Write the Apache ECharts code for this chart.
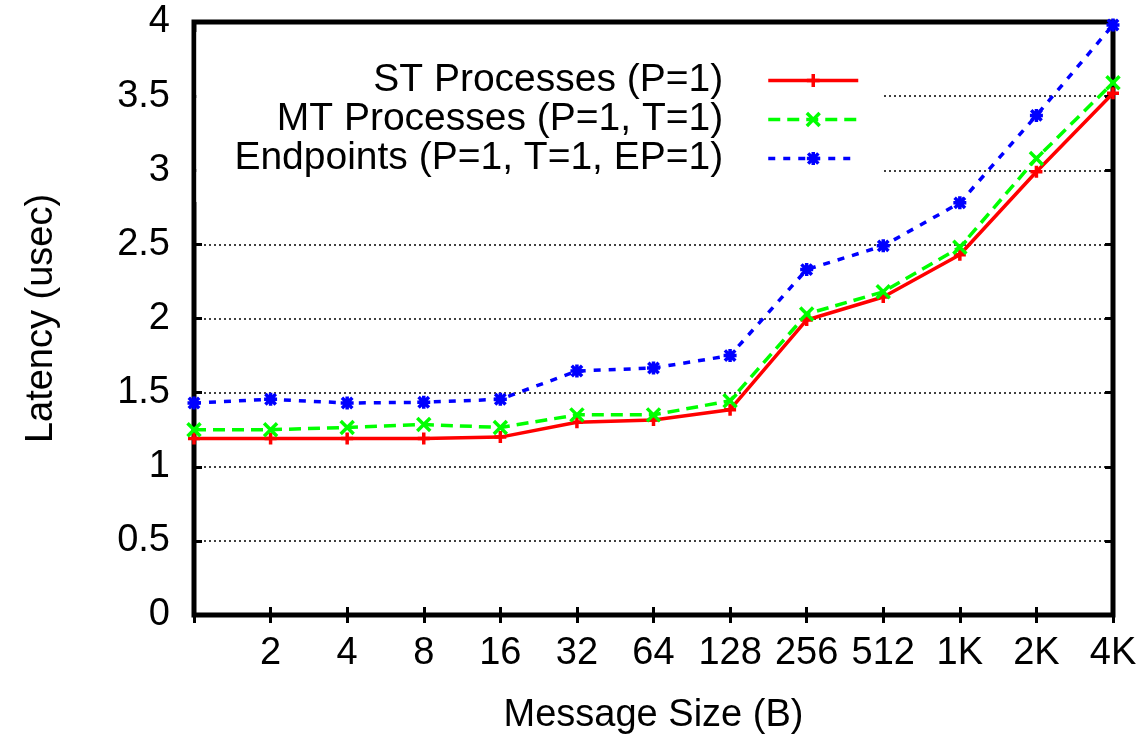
<!DOCTYPE html>
<html>
<head>
<meta charset="utf-8">
<script src="https://cdn.jsdelivr.net/npm/echarts@6/dist/echarts.min.js"></script>
<style>
  html, body { margin: 0; padding: 0; background: #fff; }
  #chart { width: 1142px; height: 737px; }
</style>
</head>
<body>
<div id="chart"></div>
<script>
  // message sizes (x categories) and what is printed under each tick
  const sizes = ['1', '2', '4', '8', '16', '32', '64', '128', '256', '512', '1K', '2K', '4K']
  const xTickLabels = ['', '2', '4', '8', '16', '32', '64', '128', '256', '512', '1K', '2K', '4K']

  const seriesNames = [
    'ST Processes (P=1)',
    'MT Processes (P=1, T=1)',
    'Endpoints (P=1, T=1, EP=1)'
  ]
  // latency in usec
  const stProc = [1.19, 1.19, 1.19, 1.19, 1.20, 1.30, 1.315, 1.385, 1.99, 2.145, 2.43, 2.99, 3.52]
  const mtProc = [1.25, 1.25, 1.265, 1.285, 1.265, 1.35, 1.35, 1.445, 2.03, 2.18, 2.48, 3.08, 3.59]
  const endpoints = [1.43, 1.455, 1.43, 1.435, 1.455, 1.646, 1.666, 1.75, 2.33, 2.49, 2.78, 3.37, 3.98]

  const font = 'Liberation Sans, Arial, Helvetica, sans-serif'
  const plus = 'path://M0,-5L0,5M-5,0L5,0'
  const cross = 'path://M-5,-5L5,5M-5,5L5,-5'
  const star = 'path://M0,-5L0,5M-5,0L5,0M-4,-4L4,4M-4,4L4,-4'

  const tickStyle = { show: true, inside: true, length: 8, lineStyle: { color: '#000', width: 3 } }

  function lineSeries(name, data, color, type, symbol, size) {
    return {
      name: name,
      type: 'line',
      data: data,
      xAxisIndex: 0,
      yAxisIndex: 0,
      symbol: symbol,
      symbolSize: size,
      showAllSymbol: true,
      lineStyle: { color: color, width: 3.5, type: type },
      itemStyle: { color: color, borderColor: color, borderWidth: 3.5 }
    }
  }

  const myChart = echarts.init(document.getElementById('chart'))
  const option = {
    animation: false,
    backgroundColor: '#fff',
    grid: {
      left: 194, right: 29, top: 22, bottom: 122,
      show: true, borderColor: '#000', borderWidth: 5,
      outerBoundsMode: 'none'
    },
    legend: {
      orient: 'vertical',
      align: 'right',
      right: 260,
      top: 32,
      padding: [29, 22, 24, 38],
      backgroundColor: '#fff',
      itemWidth: 90,
      itemHeight: 16,
      itemGap: 0,
      lineStyle: { width: 3.5 },
      itemStyle: { borderWidth: 3.5 },
      textStyle: { fontSize: 39, fontFamily: font, color: '#000', padding: [0, 40, 0, 0] },
      data: seriesNames
    },
    xAxis: [
      {
        type: 'category',
        data: sizes,
        boundaryGap: false,
        position: 'bottom',
        axisLine: { show: false },
        axisTick: Object.assign({ interval: 0 }, tickStyle),
        axisLabel: {
          interval: 0, margin: 20, fontSize: 38, fontFamily: font, color: '#000',
          formatter: (v, i) => xTickLabels[i]
        },
        splitLine: { show: false },
        name: 'Message Size (B)',
        nameLocation: 'middle',
        nameGap: 82,
        nameTextStyle: { fontSize: 38, fontFamily: font, color: '#000' }
      },
      {
        type: 'category',
        data: sizes,
        boundaryGap: false,
        position: 'top',
        axisLine: { show: false },
        axisTick: Object.assign({ interval: 0 }, tickStyle),
        axisLabel: { show: false },
        splitLine: { show: false }
      }
    ],
    yAxis: [
      {
        type: 'value',
        min: 0, max: 4, interval: 0.5,
        position: 'left',
        axisLine: { show: false },
        axisTick: tickStyle,
        axisLabel: { margin: 24, fontSize: 38, fontFamily: font, color: '#000' },
        splitLine: { show: true, lineStyle: { color: '#000', width: 1.5, type: [2, 3] } },
        name: 'Latency (usec)',
        nameLocation: 'middle',
        nameGap: 133,
        nameTextStyle: { fontSize: 38, fontFamily: font, color: '#000' }
      },
      {
        type: 'value',
        min: 0, max: 4, interval: 0.5,
        position: 'right',
        axisLine: { show: false },
        axisTick: tickStyle,
        axisLabel: { show: false },
        splitLine: { show: false }
      }
    ],
    series: [
      lineSeries(seriesNames[0], stProc, '#ff0000', 'solid', plus, 12),
      lineSeries(seriesNames[1], mtProc, '#00ff00', [12, 7], cross, 13),
      lineSeries(seriesNames[2], endpoints, '#0000ff', [7, 8], star, 13)
    ]
  }
  myChart.setOption(option)
</script>
</body>
</html>
